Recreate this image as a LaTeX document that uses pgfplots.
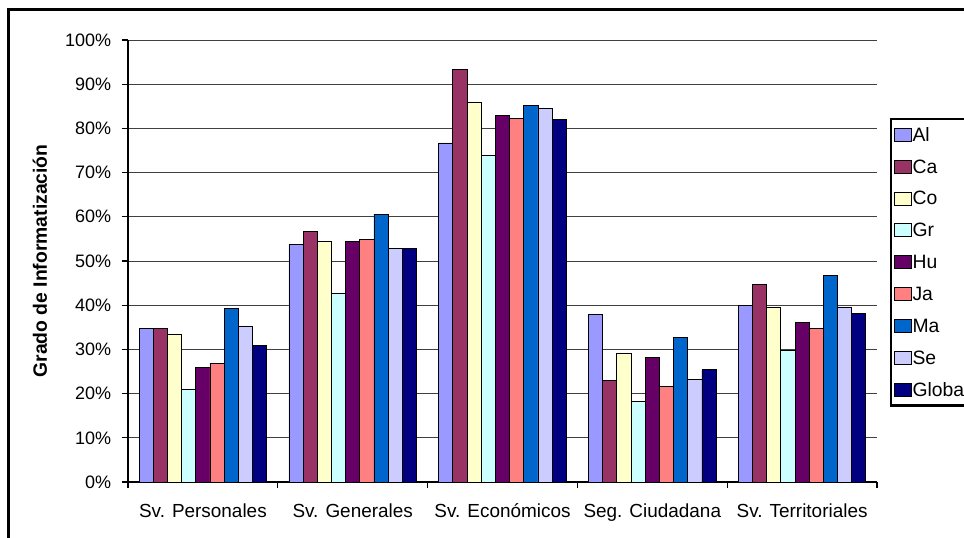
\documentclass[border=0pt]{standalone}
\usepackage{pgfplots}
\pgfplotsset{compat=1.18}
\usepackage{pgfplotstable}
\usepackage{fontspec}
\setmainfont{Liberation Sans}

% Excel-style palette
\definecolor{cAl}{HTML}{9999FF}
\definecolor{cCa}{HTML}{993366}
\definecolor{cCo}{HTML}{FFFFCC}
\definecolor{cGr}{HTML}{CCFFFF}
\definecolor{cHu}{HTML}{660066}
\definecolor{cJa}{HTML}{FF8080}
\definecolor{cMa}{HTML}{0066CC}
\definecolor{cSe}{HTML}{CCCCFF}
\definecolor{cGl}{HTML}{000080}

% Grado de informatizacion (%) por area de servicio
\pgfplotstableread{
cat Al   Ca   Co   Gr   Hu   Ja   Ma   Se   Global
0   34.7 34.7 33.4 21.0 25.9 26.9 39.3 35.3 30.9
1   53.8 56.6 54.4 42.7 54.4 54.8 60.6 52.9 52.9
2   76.7 93.4 85.8 73.9 82.9 82.3 85.1 84.5 82.0
3   38.0 22.9 29.1 18.3 28.1 21.6 32.8 23.2 25.4
4   40.0 44.6 39.6 29.7 36.2 34.7 46.8 39.6 38.1
}\datos

\begin{document}
\begin{tikzpicture}
\begin{axis}[
  at={(96pt,41.25pt)}, anchor=south west,
  scale only axis,
  width=561.75pt, height=331.5pt,
  ybar=0pt, bar width=10.63pt,
  xmin=-0.5, xmax=4.5, ymin=0, ymax=100,
  axis x line*=bottom, axis y line*=left,
  axis line style={-, black, line width=0.8pt},
  tick align=outside,
  major tick length=4.5pt,
  tick style={black, line width=0.8pt},
  % tick marks between the categories, names in the middle
  xtick={-0.5,0.5,1.5,2.5,3.5,4.5},
  xticklabels={},
  extra x ticks={0,1,2,3,4},
  extra x tick labels={Sv. Personales, Sv. Generales, Sv. Económicos, Seg. Ciudadana, Sv. Territoriales},
  extra x tick style={grid=none, major tick length=0pt,
    xticklabel style={font=\fontsize{14.2}{17}\selectfont, text height=10.5pt, text depth=3pt, anchor=north, yshift=-12.75pt}},
  ytick={0,10,...,100},
  yticklabels={0\%,10\%,20\%,30\%,40\%,50\%,60\%,70\%,80\%,90\%,100\%},
  yticklabel style={font=\fontsize{13.5}{16}\selectfont, anchor=east, inner sep=0pt, xshift=-8pt},
  ymajorgrids,
  grid style={black!75, line width=0.75pt},
  ylabel={Grado de Informatización},
  ylabel style={font=\fontsize{14.5}{17}\selectfont\bfseries, at={(axis description cs:-0.1175,0.5)}, anchor=center},
  every axis plot/.append style={draw=black, line width=0.6pt},
  legend style={at={(axis description cs:1.0174,0.8235)}, anchor=north west,
    draw=black, line width=1.8pt, inner xsep=2pt, inner ysep=5pt,
    font=\fontsize{14.5}{17}\selectfont, row sep=10.4pt,
    nodes={inner sep=1pt, text height=10.5pt, text depth=1pt}},
  legend cell align=left,
  legend image code/.code={\draw[#1, draw=black, line width=0.5pt] (0pt,-4.75pt) rectangle (12.5pt,5pt);},
]
\addplot[fill=cAl] table[x=cat, y=Al] {\datos};
\addplot[fill=cCa] table[x=cat, y=Ca] {\datos};
\addplot[fill=cCo] table[x=cat, y=Co] {\datos};
\addplot[fill=cGr] table[x=cat, y=Gr] {\datos};
\addplot[fill=cHu] table[x=cat, y=Hu] {\datos};
\addplot[fill=cJa] table[x=cat, y=Ja] {\datos};
\addplot[fill=cMa] table[x=cat, y=Ma] {\datos};
\addplot[fill=cSe] table[x=cat, y=Se] {\datos};
\addplot[fill=cGl] table[x=cat, y=Global] {\datos};
\legend{Al,Ca,Co,Gr,Hu,Ja,Ma,Se,Global}
\end{axis}
% chart area frame, running off the page to the right and below
\draw[black, line width=2.25pt] (800pt,395.25pt) -- (6.375pt,395.25pt) -- (6.375pt,-20pt);
\pgfresetboundingbox
\useasboundingbox (0,0) rectangle (723pt,402.75pt);
\end{tikzpicture}
\end{document}
